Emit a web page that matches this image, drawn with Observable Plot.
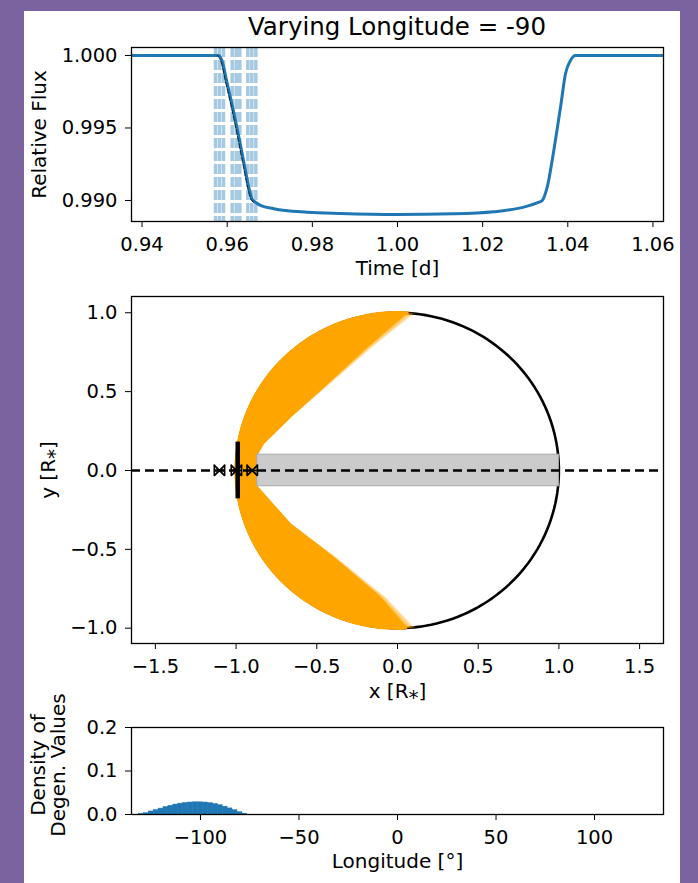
<!DOCTYPE html>
<html><head><meta charset="utf-8">
<script src="https://cdn.jsdelivr.net/npm/d3@7"></script>
<script src="https://cdn.jsdelivr.net/npm/@observablehq/plot@0.6"></script>
<style>
html,body{margin:0;padding:0;}
body{width:698px;height:883px;background:#7b63a0;position:relative;overflow:hidden;font-family:"DejaVu Sans",sans-serif;}
#card{position:absolute;left:24px;top:11px;width:656px;height:880px;background:#fff;}
#title{position:absolute;left:131px;width:532px;top:15px;text-align:center;font-size:24.5px;line-height:24px;color:#000;white-space:nowrap;}
.panel{position:absolute;left:24px;}
</style></head><body>
<div id="card"></div>
<div id="title">Varying Longitude = -90</div>
<div id="p1" class="panel" style="top:40px"></div>
<div id="p2" class="panel" style="top:285px"></div>
<div id="p3" class="panel" style="top:705px"></div>
<script>
// ---------- Panel 1: light curve ----------
const timeD   = [0.9374, 0.95803, 0.9589, 0.95984, 0.96195, 0.96383, 0.96524, 0.96587, 0.96665, 0.96782, 0.97095, 0.97879, 0.98661, 0.99993, 1.01315, 1.02262, 1.02967, 1.03319, 1.03399, 1.03516, 1.03671, 1.03829, 1.03946, 1.04064, 1.04181, 1.0626];
const relFlux = [1.0, 1.0, 0.99952, 0.99828, 0.99552, 0.99276, 0.99069, 0.99007, 0.98988, 0.98966, 0.98943, 0.98919, 0.98910, 0.98903, 0.98908, 0.98922, 0.98954, 0.98988, 0.99000, 0.99092, 0.99345, 0.99643, 0.99874, 0.99966, 1.0, 1.0];
const contactTimes = [0.95725, 0.95819, 0.95913, 0.96117, 0.96211, 0.96296, 0.96484, 0.96578, 0.96672];
const modelStart = 0.95803, modelEnd = 0.96665;
const timeTicks = [0.94, 0.96, 0.98, 1.00, 1.02, 1.04, 1.06];
const fluxTicks = [0.990, 0.995, 1.000];

// ---------- Panel 2: sky-plane geometry ----------
const starRadius = [1.0];
const arcStartDeg = [86.6], arcEndDeg = [273.4];
const upperEdgeX = [0.06, -0.188, -0.457, -0.663, -0.829, -0.869];
const upperEdgeY = [1.0, 0.782, 0.528, 0.338, 0.170, 0.10];
const lowerEdgeX = [-0.869, -0.663, -0.395, -0.105, 0.06];
const lowerEdgeY = [-0.10, -0.338, -0.55, -0.803, -1.0];
const fadeShift = [0.018, 0.034, 0.05];
const bandX = [-0.869, 1.0], bandY = [-0.1, 0.1];
const orbitY = [0];
const markerX = [-1.103, -0.998, -0.900];
const markerErr = [0.032, 0.032, 0.032];
const capHalf = [0.035];
const barX = [-0.99], barHalf = [0.18];
const posTicks = [-1.5, -1.0, -0.5, 0.0, 0.5, 1.0, 1.5];
const posTicksY = [-1.0, -0.5, 0.0, 0.5, 1.0];

// ---------- Panel 3: longitude density ----------
const binEdges = [-131.25, -128.75, -126.25, -123.75, -121.25, -118.75, -116.25, -113.75, -111.25, -108.75, -106.25, -103.75, -101.25, -98.75, -96.25, -93.75, -91.25, -88.75, -86.25, -83.75, -81.25, -78.75, -76.25];
const density  = [0.001, 0.003, 0.007, 0.010, 0.0135, 0.017, 0.020, 0.0228, 0.025, 0.0265, 0.0275, 0.028, 0.028, 0.0275, 0.026, 0.024, 0.0213, 0.018, 0.014, 0.0098, 0.0052, 0.0015];
const lonTicks = [-100, -50, 0, 50, 100];
const densTicks = [0.0, 0.1, 0.2];

const W = 656, ML = 107, MR = 17;
const style = {fontFamily: "DejaVu Sans", fontSize: "19.5px", color: "black", background: "transparent", overflow: "visible"};
const blue = "#1f77b4";
const LF = 20;

// panel 1
const curve = timeD.map((t, i) => ({t, f: relFlux[i]}));
const model = curve.filter(d => d.t >= modelStart && d.t <= modelEnd);
const p1 = Plot.plot({
  width: W, height: 245, marginLeft: ML, marginRight: MR, marginTop: 7, marginBottom: 64, style,
  x: {domain: [0.93752, 1.06248], ticks: timeTicks, tickFormat: d3.format(".2f"), tickSize: 6, tickPadding: 10, label: null},
  y: {domain: [0.98855, 1.00055], ticks: fluxTicks, tickFormat: d3.format(".3f"), tickSize: 6, tickPadding: 8, label: null},
  marks: [
    Plot.ruleX(contactTimes, {x: d => d, stroke: blue, strokeOpacity: 0.4, strokeWidth: 3.5, strokeDasharray: "10,3"}),
    Plot.line(curve, {x: "t", y: "f", stroke: blue, strokeWidth: 3, curve: "monotone-x", clip: true}),
    Plot.line(model, {x: "t", y: "f", stroke: "black", strokeWidth: 0.9, strokeOpacity: 0.85, strokeDasharray: "5,2", dx: -1.3, curve: "monotone-x"}),
    Plot.frame({stroke: "black", strokeWidth: 1.3}),
    Plot.text(["Relative Flux"], {text: d => d, frameAnchor: "left", textAnchor: "middle", rotate: -90, dx: -92, fontSize: LF}),
    Plot.text(["Time [d]"], {text: d => d, frameAnchor: "bottom", dy: 53, fontSize: LF})
  ]
});
document.getElementById("p1").appendChild(p1);

// panel 2
const deg = Math.PI / 180;
const circlePts = d3.range(0, 361, 2).map(a => ({x: starRadius[0] * Math.cos(a * deg), y: starRadius[0] * Math.sin(a * deg)}));
const arcPts = d3.range(arcStartDeg[0], arcEndDeg[0] + 0.01, 2).map(a => ({x: starRadius[0] * Math.cos(a * deg), y: starRadius[0] * Math.sin(a * deg)}));
function wedge(shift) {
  const pts = arcPts.slice();
  const lower = lowerEdgeX.map((x, i) => ({x: x + shift * lowerEdgeY[i] * lowerEdgeY[i], y: lowerEdgeY[i]})).reverse();
  const upper = upperEdgeX.map((x, i) => ({x: x + shift * upperEdgeY[i] * upperEdgeY[i], y: upperEdgeY[i]})).reverse();
  return pts.concat(lower, upper);
}
const band = [{x1: bandX[0], x2: bandX[1], y1: bandY[0], y2: bandY[1]}];
const markers = markerX.map((x, i) => ({x, e: markerErr[i]}));
const caps = markers.flatMap(d => [d.x - d.e, d.x + d.e]);
const p2 = Plot.plot({
  width: W, height: 420, marginLeft: ML, marginRight: MR, marginTop: 11, marginBottom: 62, style,
  x: {domain: [-1.648, 1.648], ticks: posTicks, tickFormat: d3.format(".1f"), tickSize: 6, tickPadding: 10, label: null},
  y: {domain: [-1.097, 1.103], ticks: posTicksY, tickFormat: d3.format(".1f"), tickSize: 6, tickPadding: 8, label: null},
  marks: [
    Plot.line(circlePts, {x: "x", y: "y", stroke: "black", strokeWidth: 2.6}),
    ...fadeShift.slice().reverse().map(s => Plot.line(wedge(s), {x: "x", y: "y", fill: "orange", fillOpacity: 0.3, stroke: "none"})),
    Plot.line(wedge(0), {x: "x", y: "y", fill: "orange", stroke: "orange", strokeWidth: 1}),
    Plot.line(arcPts, {x: "x", y: "y", stroke: "orange", strokeWidth: 3.4}),
    Plot.rect(band, {x1: "x1", x2: "x2", y1: "y1", y2: "y2", fill: "#cbcbcb", stroke: "#aaaaaa", strokeWidth: 1}),
    Plot.ruleY(orbitY, {y: d => d, stroke: "black", strokeWidth: 2.6, strokeDasharray: "9,5"}),
    Plot.ruleX(barX, {x: d => d, y1: d => -barHalf[0], y2: d => barHalf[0], stroke: "black", strokeWidth: 4.5}),
    Plot.ruleY(markers, {y: () => orbitY[0], x1: d => d.x - d.e, x2: d => d.x + d.e, stroke: "black", strokeWidth: 1.6}),
    Plot.ruleX(caps, {x: d => d, y1: () => -capHalf[0], y2: () => capHalf[0], stroke: "black", strokeWidth: 1.6}),
    Plot.dot(markers, {x: "x", y: () => orbitY[0], symbol: "times", r: 5, stroke: "black", strokeWidth: 1.8}),
    Plot.frame({stroke: "black", strokeWidth: 1.3}),
    Plot.text(["y [R\u204E]"], {text: d => d, frameAnchor: "left", textAnchor: "middle", rotate: -90, dx: -83, fontSize: LF}),
    Plot.text(["x [R\u204E]"], {text: d => d, frameAnchor: "bottom", dy: 54, fontSize: LF})
  ]
});
document.getElementById("p2").appendChild(p2);

// panel 3
const bins = density.map((v, i) => ({x1: binEdges[i], x2: binEdges[i + 1], y: v}));
const p3 = Plot.plot({
  width: W, height: 178, marginLeft: ML, marginRight: MR, marginTop: 22, marginBottom: 69, style,
  x: {domain: [-135, 135], ticks: lonTicks, tickFormat: d3.format("d"), tickSize: 6, tickPadding: 10, label: null},
  y: {domain: [0, 0.2], ticks: densTicks, tickFormat: d3.format(".1f"), tickSize: 6, tickPadding: 8, label: null},
  marks: [
    Plot.rectY(bins, {x1: "x1", x2: "x2", y: "y", fill: blue, stroke: blue, strokeWidth: 0.5}),
    Plot.frame({stroke: "black", strokeWidth: 1.3}),
    Plot.text(["Density of\nDegen. Values"], {text: d => d, frameAnchor: "left", textAnchor: "middle", rotate: -90, dx: -83, dy: -6, fontSize: LF, lineHeight: 1.0}),
    Plot.text(["Longitude [°]"], {text: d => d, frameAnchor: "bottom", dy: 53, fontSize: LF})
  ]
});
document.getElementById("p3").appendChild(p3);
</script></body></html>
